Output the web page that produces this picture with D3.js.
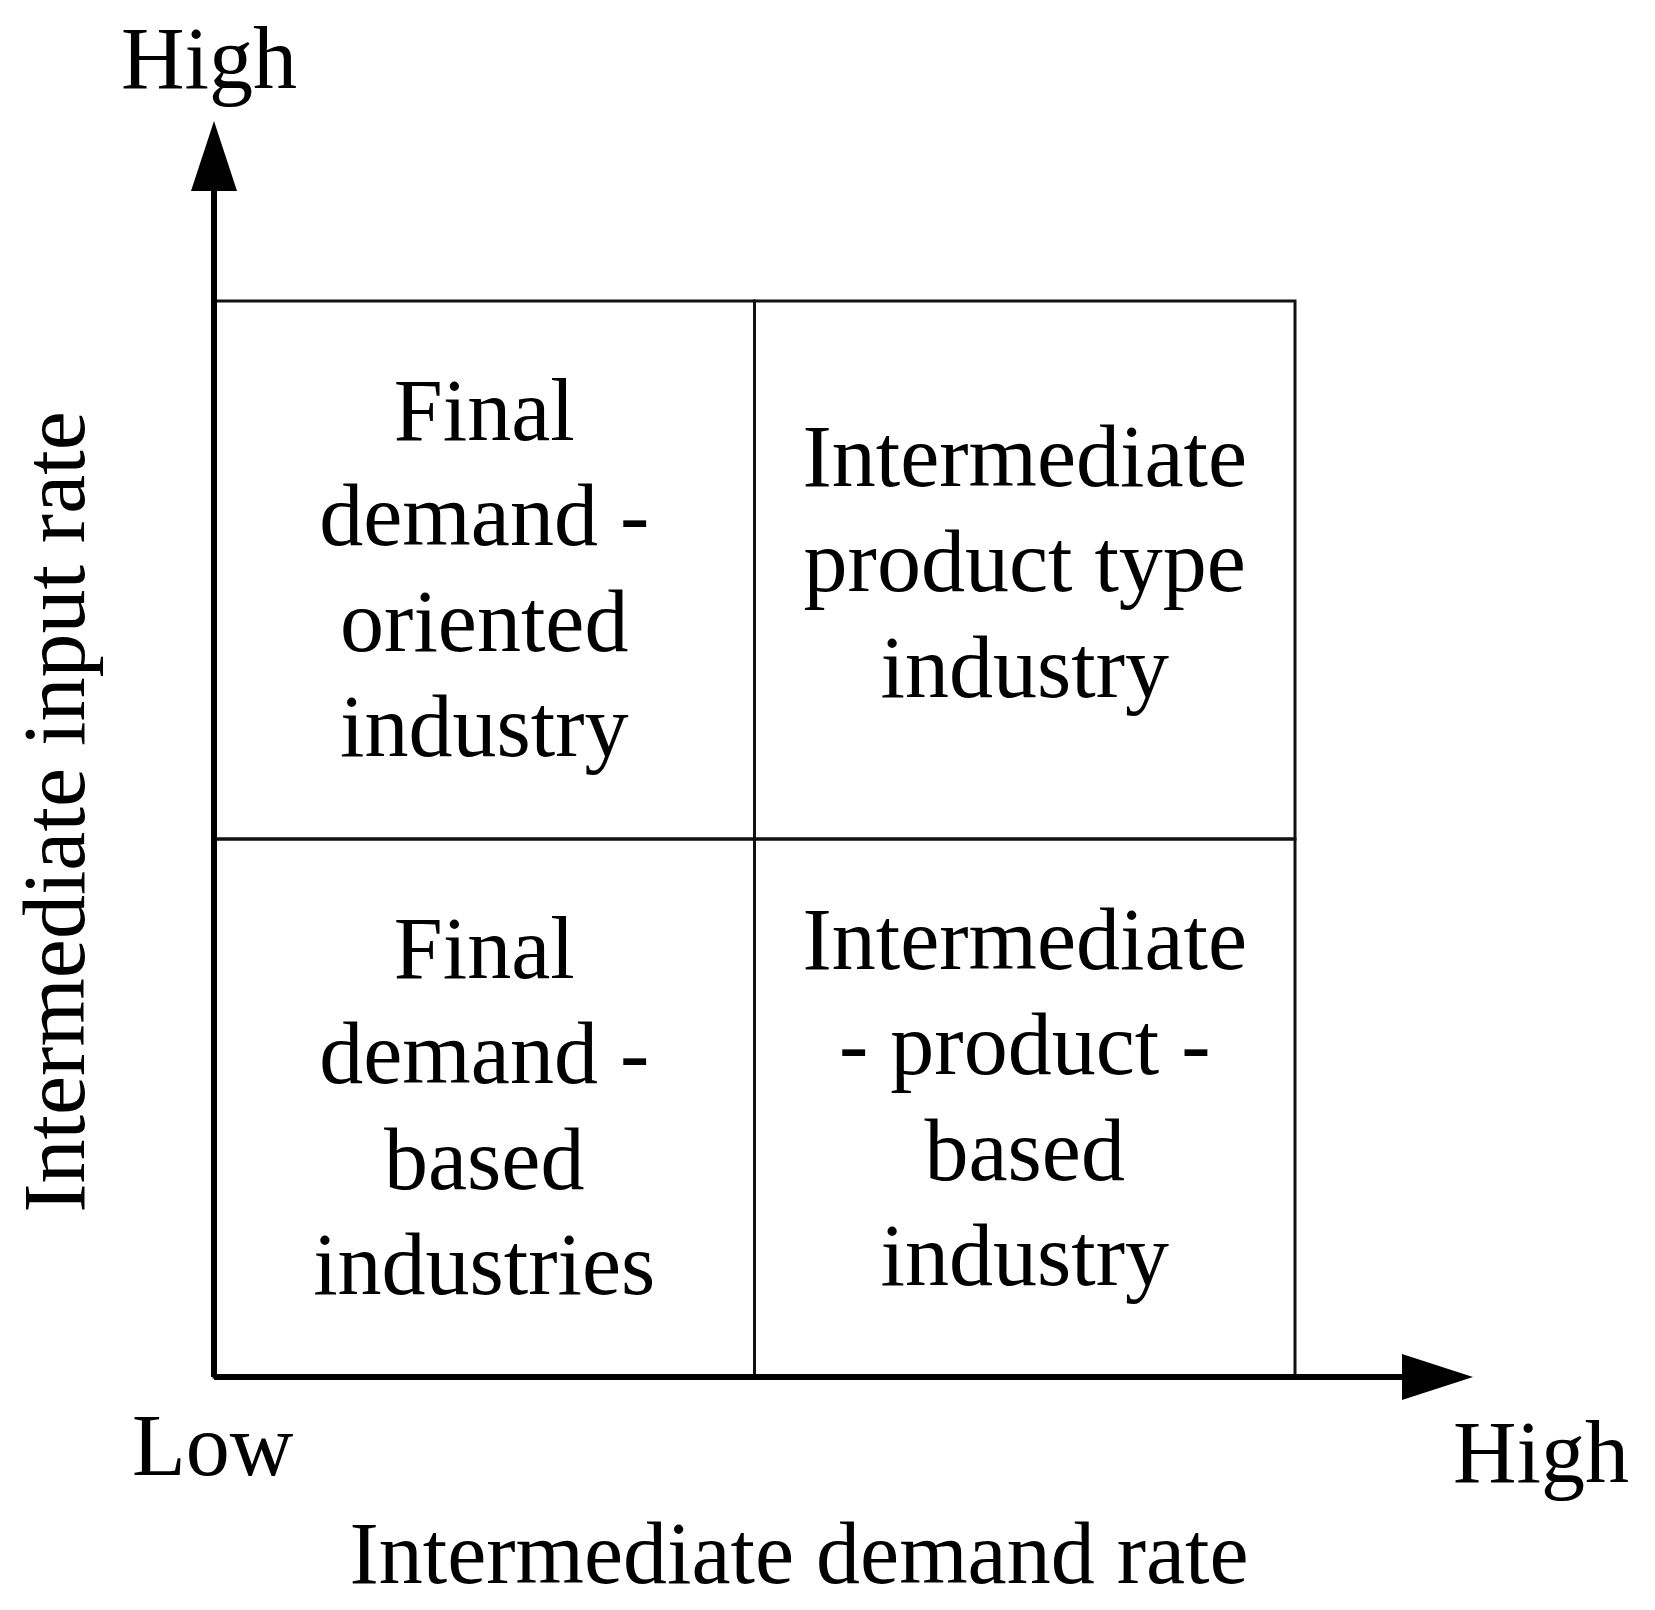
<!DOCTYPE html><html><head><meta charset="utf-8"><script src="https://cdn.jsdelivr.net/npm/d3@7"></script>
<style>body{margin:0;background:#fff}text{font-family:"Liberation Serif","DejaVu Serif",serif;fill:#000}</style></head><body><svg id="c" width="1655" height="1610"></svg>
<script>
const xLevels=["Low","High"];
const yLevels=["Low","High"];
const quadrants=[
 {x:"Low",y:"High",lines:["Final","demand -","oriented","industry"]},
 {x:"High",y:"High",lines:["Intermediate","product type","industry"]},
 {x:"Low",y:"Low",lines:["Final","demand -","based","industries"]},
 {x:"High",y:"Low",lines:["Intermediate","- product -","based","industry"]}
];
const xTitle="Intermediate demand rate", yTitle="Intermediate input rate";
const svg=d3.select("#c");
const x=d3.scaleBand().domain(xLevels).range([214,1295]);
const y=d3.scaleBand().domain(yLevels).range([1377,301]);
const fs=88, lh=105.5;
// grid
const g=svg.append("g");
quadrants.forEach(q=>{
 g.append("rect").attr("x",x(q.x)).attr("y",y(q.y)).attr("width",x.bandwidth()).attr("height",y.bandwidth())
  .attr("fill","none").attr("stroke","#111").attr("stroke-width",3);
 const n=q.lines.length, cx=x(q.x)+x.bandwidth()/2, cy=y(q.y)+y.bandwidth()/2+(q.y==="High"&&q.x==="High"?-7:0)+(q.y==="Low"&&q.x==="High"?-9:0);
 q.lines.forEach((t,i)=>g.append("text").attr("x",cx).attr("y",cy+(i-(n-1)/2)*lh+fs*0.32)
  .attr("text-anchor","middle").attr("font-size",fs).text(t));
});
// axes
const x0=x.range()[0], y0=y.range()[0];
svg.append("line").attr("x1",x0).attr("y1",y0).attr("x2",1405).attr("y2",y0).attr("stroke","#000").attr("stroke-width",6);
svg.append("line").attr("x1",x0).attr("y1",y0).attr("x2",x0).attr("y2",185).attr("stroke","#000").attr("stroke-width",6);
svg.append("path").attr("d",`M${x0},121L${x0-23},191L${x0+23},191Z`);
svg.append("path").attr("d",`M1473,${y0}L1402,${y0-23}L1402,${y0+23}Z`);
svg.append("text").attr("x",121).attr("y",88).attr("font-size",fs).text(yLevels[1]);
svg.append("text").attr("x",132).attr("y",1475).attr("font-size",fs).text(xLevels[0]);
svg.append("text").attr("x",1453).attr("y",1482).attr("font-size",fs).text(xLevels[1]);
svg.append("text").attr("x",799).attr("y",1583).attr("text-anchor","middle").attr("font-size",fs).text(xTitle);
svg.append("text").attr("transform","translate(84,812) rotate(-90)").attr("text-anchor","middle").attr("font-size",fs).text(yTitle);
</script></body></html>
